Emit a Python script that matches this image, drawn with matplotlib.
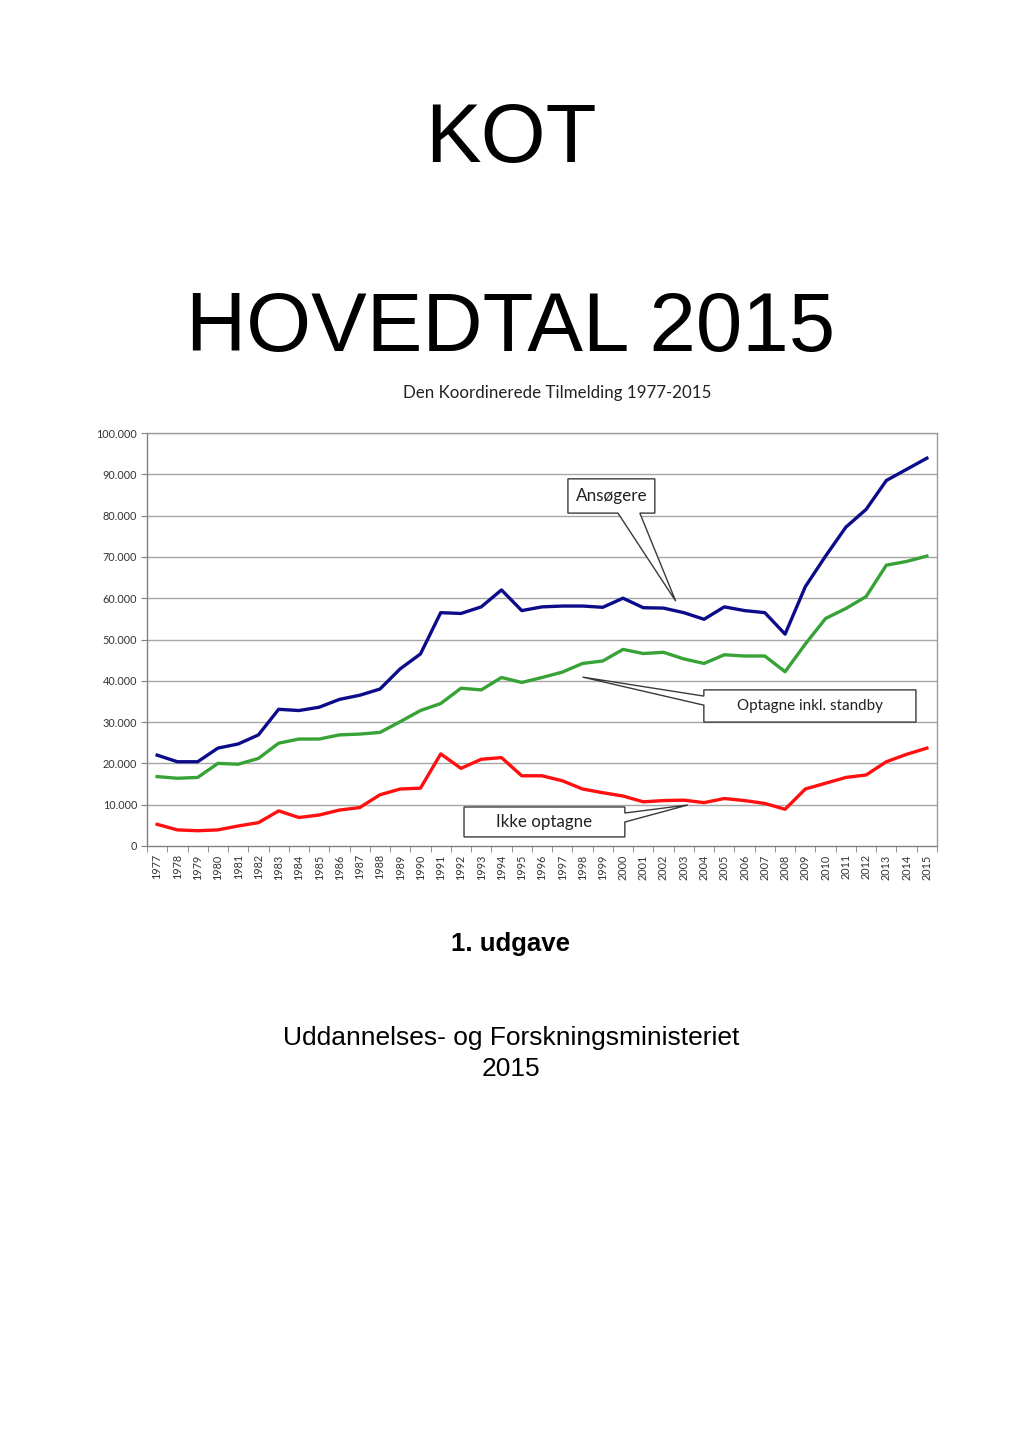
import numpy as np
import matplotlib
matplotlib.use("Agg")
import matplotlib.pyplot as plt
from matplotlib.patches import Polygon

years = list(range(1977, 2016))
ansoegere = [22000, 20400, 20400, 23700, 24700, 26900, 33100, 32800, 33600, 35500,
             36500, 38000, 42900, 46500, 56500, 56300, 57900, 62000, 57000, 57900,
             58100, 58100, 57800, 60000, 57700, 57600, 56500, 54900, 57900, 57000,
             56500, 51300, 62800, 70200, 77200, 81500, 88500, 91200, 93900]
optagne = [16800, 16400, 16600, 20000, 19800, 21200, 24900, 25900, 25900, 26900,
           27100, 27500, 30100, 32800, 34500, 38200, 37800, 40800, 39600, 40800,
           42100, 44200, 44800, 47600, 46600, 46900, 45300, 44200, 46300, 46000,
           46000, 42200, 48900, 55100, 57500, 60400, 68000, 68900, 70200]
ikke_optagne = [5250, 3900, 3700, 3900, 4850, 5650, 8500, 6900, 7500, 8700,
                9300, 12400, 13800, 14000, 22300, 18800, 21000, 21400, 17000, 17000,
                15800, 13800, 12900, 12100, 10700, 11000, 11100, 10500, 11500, 11000,
                10300, 8900, 13800, 15200, 16600, 17200, 20400, 22200, 23700]
y_ticks = list(range(0, 100001, 10000))

W, H = 1020, 1442
fig = plt.figure(figsize=(W / 100, H / 100), dpi=100)
fig.patch.set_facecolor("white")

sans = ["Liberation Sans", "DejaVu Sans"]
cal = ["Lato", "DejaVu Sans"]

fig.text(511 / W, 1 - 140 / H, "KOT", ha="center", va="center", fontsize=60, family=sans)
fig.text(511 / W, 1 - 329 / H, "HOVEDTAL 2015", ha="center", va="center", fontsize=60, family=sans)
fig.text(557 / W, 1 - 393 / H, "Den Koordinerede Tilmelding 1977-2015", ha="center", va="center",
         fontsize=12.2, family=cal, color="#222222")
fig.text(511 / W, 1 - 944 / H, "1. udgave", ha="center", va="center", fontsize=18.5,
         fontweight="bold", family=sans)
fig.text(511 / W, 1 - 1038 / H, "Uddannelses- og Forskningsministeriet", ha="center", va="center",
         fontsize=19, family=sans)
fig.text(511 / W, 1 - 1069 / H, "2015", ha="center", va="center", fontsize=19, family=sans)

ax = fig.add_axes([147 / W, 1 - 846 / H, 790 / W, 413 / H])
x = np.arange(len(years))
ax.set_xlim(-0.5, len(years) - 0.5)
ax.set_ylim(0, 100000)

for yt in y_ticks[1:]:
    ax.axhline(yt, color="#a6a6a6", lw=1.0, zorder=1)

ax.plot(x, ansoegere, color="#0c0c8a", lw=2.4, zorder=3, solid_joinstyle="round")
ax.plot(x, optagne, color="#37a337", lw=2.4, zorder=3, solid_joinstyle="round")
ax.plot(x, ikke_optagne, color="#ff0f0f", lw=2.4, zorder=3, solid_joinstyle="round")

ax.set_yticks(y_ticks)
ax.set_yticklabels([f"{v:,.0f}".replace(",", ".") for v in y_ticks], fontsize=7.8,
                   family=cal, color="#333333")
ax.set_xticks(x)
ax.set_xticklabels([str(y) for y in years], rotation=90, fontsize=7.8, family=cal, color="#333333")
ax.set_xticks(np.arange(-0.5, len(years), 1.0), minor=True)
ax.tick_params(axis="x", which="major", length=0, pad=6)
ax.tick_params(axis="x", which="minor", length=4, color="#808080", direction="out")
ax.tick_params(axis="y", length=4, color="#808080", direction="out", pad=3)
for s in ["left", "bottom", "right", "top"]:
    ax.spines[s].set_color("#9a9a9a")
    ax.spines[s].set_linewidth(1.0)
ax.spines["left"].set_color("#808080")
ax.spines["bottom"].set_color("#808080")


def callout(text, box, base, tip, fs):
    x0, x1, y0, y1 = box
    (bx0, by0), (bx1, by1) = base
    side = "bottom" if by0 == by1 == y0 else ("left" if bx0 == bx1 == x0 else "right")
    if side == "bottom":
        pts = [(x0, y1), (x1, y1), (x1, y0), (bx1, by1), tip, (bx0, by0), (x0, y0)]
    elif side == "left":
        pts = [(x0, y1), (x1, y1), (x1, y0), (x0, y0), (bx1, by1), tip, (bx0, by0)]
    else:
        pts = [(x0, y1), (x1, y1), (bx0, by0), tip, (bx1, by1), (x1, y0), (x0, y0)]
    poly = Polygon(pts, closed=True, facecolor="white", edgecolor="#3a3a3a", lw=1.0, zorder=5)
    ax.add_patch(poly)
    ax.text((x0 + x1) / 2, (y0 + y1) / 2, text, ha="center", va="center", fontsize=fs,
            family=cal, color="#222222", zorder=6)


callout("Ansøgere", (20.28, 24.57, 80600, 88900), ((22.75, 80600), (23.83, 80600)), (25.6, 59300), 12.3)
callout("Optagne inkl. standby", (26.99, 37.46, 30000, 37800), ((26.99, 36300), (26.99, 34100)),
        (21.0, 40900), 10.9)
callout("Ikke optagne", (15.15, 23.09, 2200, 9450), ((23.09, 7990), (23.09, 5810)), (26.2, 9930), 12.2)

fig.savefig("out.png", dpi=100, facecolor="white")
